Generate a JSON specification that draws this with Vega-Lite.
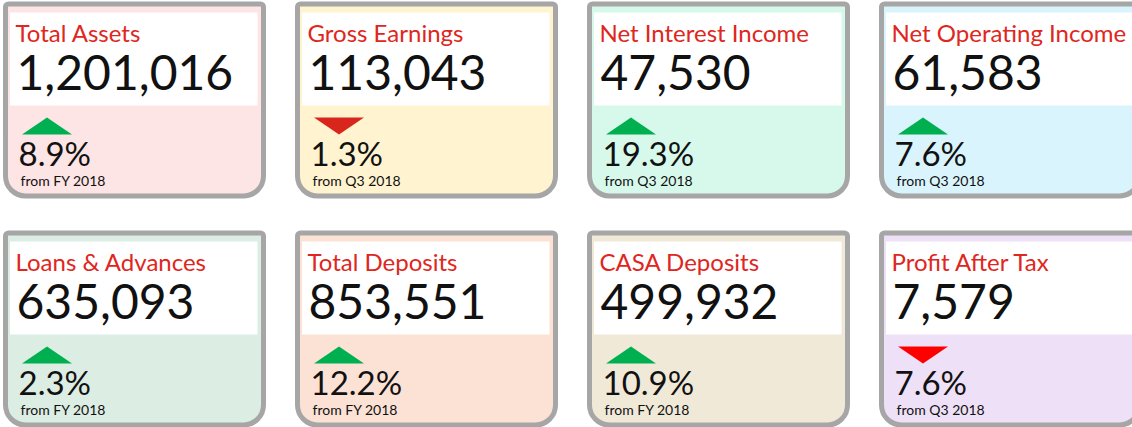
{
  "$schema": "https://vega.github.io/schema/vega-lite/v6.json",
  "padding": {"left": 2.5, "top": 1, "right": 0, "bottom": 0},
  "background": "white",
  "data": {
    "values": [
      {"metric": "Total Assets", "value": 1201016, "change": 0.089, "direction": "up", "basis": "from FY 2018"},
      {"metric": "Gross Earnings", "value": 113043, "change": 0.013, "direction": "down", "basis": "from Q3 2018"},
      {"metric": "Net Interest Income", "value": 47530, "change": 0.193, "direction": "up", "basis": "from Q3 2018"},
      {"metric": "Net Operating Income", "value": 61583, "change": 0.076, "direction": "up", "basis": "from Q3 2018"},
      {"metric": "Loans & Advances", "value": 635093, "change": 0.023, "direction": "up", "basis": "from FY 2018"},
      {"metric": "Total Deposits", "value": 853551, "change": 0.122, "direction": "up", "basis": "from FY 2018"},
      {"metric": "CASA Deposits", "value": 499932, "change": 0.109, "direction": "up", "basis": "from FY 2018"},
      {"metric": "Profit After Tax", "value": 7579, "change": 0.076, "direction": "down", "basis": "from Q3 2018"}
    ]
  },
  "facet": {
    "field": "metric",
    "type": "nominal",
    "title": null,
    "sort": ["Total Assets", "Gross Earnings", "Net Interest Income", "Net Operating Income", "Loans & Advances", "Total Deposits", "CASA Deposits", "Profit After Tax"],
    "header": {"labels": false, "title": null, "labelPadding": 0, "titlePadding": 0, "labelFontSize": 0, "labelExpr": "''"}
  },
  "columns": 4,
  "spacing": {"row": 31, "column": 28},
  "spec": {
    "width": 258,
    "height": 192,
    "layer": [
      {
        "mark": {"type": "rect", "cornerRadiusTopLeft": 3, "cornerRadiusTopRight": 3, "cornerRadiusBottomLeft": 20, "cornerRadiusBottomRight": 20},
        "encoding": {
          "x": {"value": 0}, "x2": {"value": "width"},
          "y": {"value": 0}, "y2": {"value": "height"},
          "fill": {
            "field": "metric", "type": "nominal", "legend": null,
            "scale": {
              "domain": ["Total Assets", "Gross Earnings", "Net Interest Income", "Net Operating Income", "Loans & Advances", "Total Deposits", "CASA Deposits", "Profit After Tax"],
              "range": ["#fde4e5", "#fff3d0", "#d7f9ec", "#d9f4fc", "#dcede3", "#fce2d5", "#f1e9d8", "#eee0f6"]
            }
          }
        }
      },
      {
        "mark": {"type": "rect", "fill": "white"},
        "encoding": {
          "x": {"value": 4.5}, "x2": {"value": 252},
          "y": {"value": 8.5}, "y2": {"value": 101.5}
        }
      },
      {
        "mark": {"type": "rect", "fill": null, "fillOpacity": 0, "stroke": "#a6a6a6", "strokeWidth": 5, "cornerRadiusTopLeft": 3, "cornerRadiusTopRight": 3, "cornerRadiusBottomLeft": 20, "cornerRadiusBottomRight": 20},
        "encoding": {
          "x": {"value": 0}, "x2": {"value": "width"},
          "y": {"value": 0}, "y2": {"value": "height"}
        }
      },
      {
        "mark": {"type": "text", "align": "left", "baseline": "alphabetic", "font": "Lato", "fontSize": 24, "fill": "#e02620"},
        "encoding": {
          "text": {"field": "metric", "type": "nominal"},
          "x": {"value": 10}, "y": {"value": 37.5}
        }
      },
      {
        "mark": {"type": "text", "align": "left", "baseline": "alphabetic", "font": "Lato", "fontSize": 48, "fill": "#111111"},
        "encoding": {
          "text": {"field": "value", "type": "quantitative", "format": ","},
          "x": {"value": 11}, "y": {"value": 86}
        }
      },
      {
        "mark": {"type": "point", "filled": true, "opacity": 1, "strokeWidth": 0},
        "encoding": {
          "x": {"value": 41.5}, "y": {"value": 122},
          "size": {"value": 2500},
          "shape": {
            "field": "direction", "type": "nominal", "legend": null,
            "scale": {"domain": ["up", "down"], "range": ["M-1,0.34L1,0.34L0,-0.34Z", "M-1,-0.34L1,-0.34L0,0.34Z"]}
          },
          "color": {
            "field": "metric", "type": "nominal", "legend": null,
            "scale": {
              "domain": ["Total Assets", "Gross Earnings", "Net Interest Income", "Net Operating Income", "Loans & Advances", "Total Deposits", "CASA Deposits", "Profit After Tax"],
              "range": ["#00b050", "#d9261c", "#00b050", "#00b050", "#00b050", "#00b050", "#00b050", "#ff0000"]
            }
          }
        }
      },
      {
        "mark": {"type": "text", "align": "left", "baseline": "alphabetic", "font": "Lato", "fontSize": 33, "fill": "#111111"},
        "encoding": {
          "text": {"field": "change", "type": "quantitative", "format": ".1%"},
          "x": {"value": 13}, "y": {"value": 162}
        }
      },
      {
        "mark": {"type": "text", "align": "left", "baseline": "alphabetic", "font": "Lato", "fontSize": 14, "fill": "#111111"},
        "encoding": {
          "text": {"field": "basis", "type": "nominal"},
          "x": {"value": 15}, "y": {"value": 182}
        }
      }
    ]
  },
  "config": {"view": {"stroke": null}, "header": {"labels": false, "title": null}}
}
